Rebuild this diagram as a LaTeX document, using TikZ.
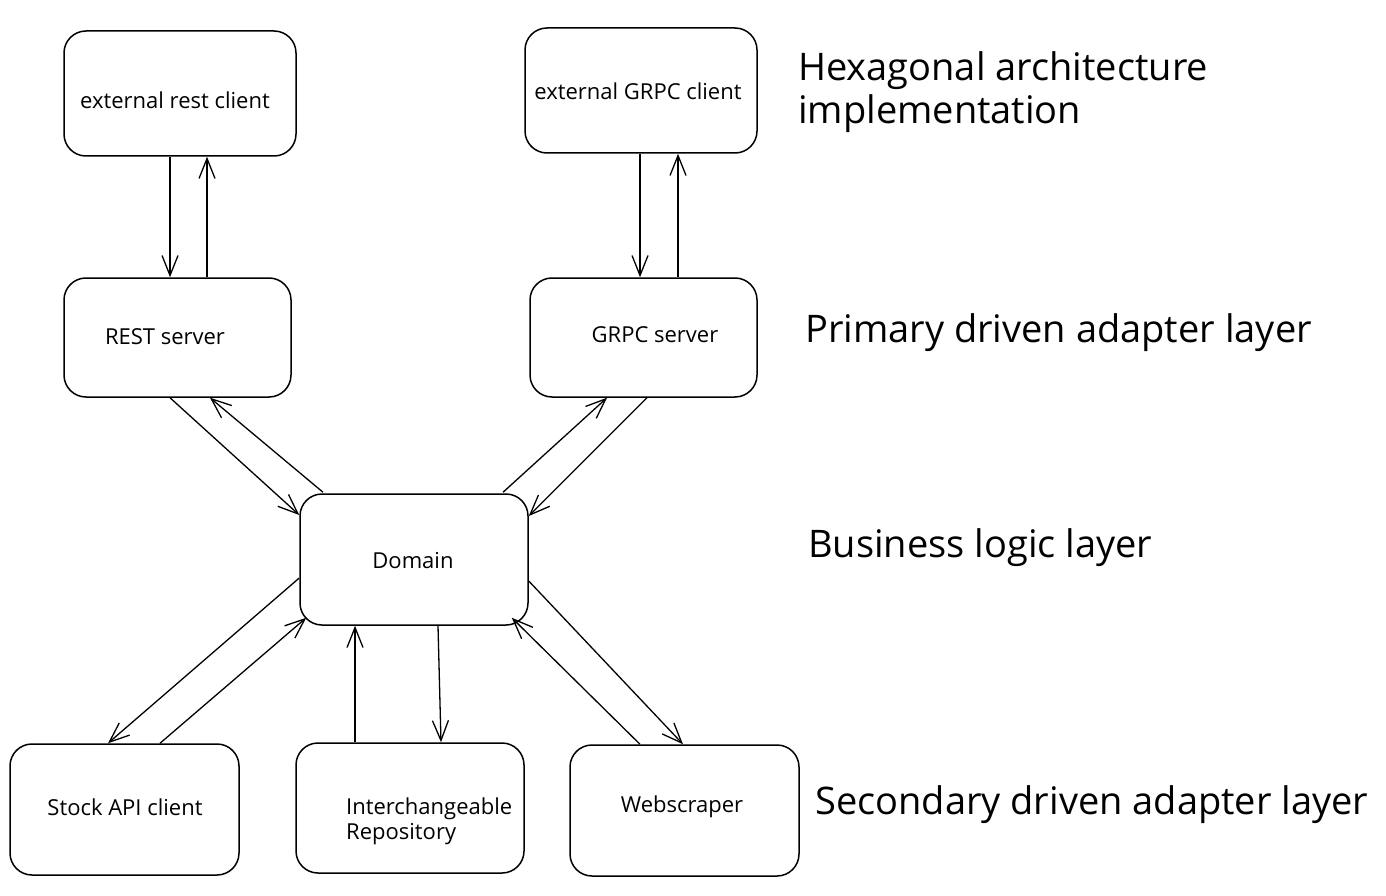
\documentclass[tikz,border=0pt]{standalone}
\usepackage{fontspec}
\setmainfont{Open Sans}
\usetikzlibrary{arrows.meta}
\begin{document}
\begin{tikzpicture}[x=1pt,y=-1pt,
  box/.style={draw=black,line width=1.5pt,rounded corners=22pt,inner sep=0pt},
  btext/.style={font=\fontsize{22}{25}\selectfont,inner sep=0pt},
  ltext/.style={font=\fontsize{38}{43}\selectfont,inner sep=0pt,anchor=west,align=left},
  arr/.style={line width=1.3pt,-{Straight Barb[length=20pt,width=16pt,line width=1.3pt]}}]
\useasboundingbox[fill=white] (0,0) rectangle (1386,896);
% boxes
\node[box,minimum width=232pt,minimum height=125pt] (erc) at (180,93.5) {};
\node[box,minimum width=232pt,minimum height=125pt] (egc) at (641,90.5) {};
\node[box,minimum width=227pt,minimum height=119pt] (rest) at (177.5,337.5) {};
\node[box,minimum width=227pt,minimum height=119pt] (grpc) at (643.5,337.5) {};
\node[box,minimum width=228pt,minimum height=131pt] (dom) at (414,559.5) {};
\node[box,minimum width=229pt,minimum height=131pt] (stock) at (124.5,809.5) {};
\node[box,minimum width=228pt,minimum height=130pt] (repo) at (410,808) {};
\node[box,minimum width=229pt,minimum height=131pt] (web) at (684.5,810.5) {};
% box texts
\node[btext] (t1) at (175,100) {external rest client};
\node[btext] (t2) at (638,91) {external GRPC client};
\node[btext] (t3) at (165,337) {REST server};
\node[btext] (t4) at (655,335) {GRPC server};
\node[btext] (t5) at (413,561) {Domain};
\node[btext] (t6) at (125,807) {Stock API client};
\node[btext,anchor=west,align=left] (t7) at (346,821) {Interchangeable\\Repository};
\node[btext] (t8) at (682,807) {Webscraper};
% side labels
\node[ltext] (l1) at (798,92) {Hexagonal architecture\\implementation};
\node[ltext] (l2) at (805,333) {Primary driven adapter layer};
\node[ltext] (l3) at (808,548) {Business logic layer};
\node[ltext] (l4) at (815,805) {Secondary driven adapter layer};
% arrows
\draw[arr] ([xshift=-10pt]erc.south) -- ([xshift=-7.5pt]rest.north);
\draw[arr] ([xshift=29.5pt]rest.north) -- ([xshift=27pt]erc.south);
\draw[arr] ([xshift=-1pt]egc.south) -- ([xshift=-3.5pt]grpc.north);
\draw[arr] ([xshift=34.5pt]grpc.north) -- ([xshift=37pt]egc.south);
\draw[arr] ([xshift=-7.5pt]rest.south) -- ([yshift=44.5pt]dom.west);
\draw[arr] ([xshift=-91pt,yshift=1pt]dom.north) -- ([xshift=32.5pt]rest.south);
\draw[arr] ([xshift=89pt,yshift=1pt]dom.north) -- ([xshift=-36.5pt]grpc.south);
\draw[arr] ([xshift=3.5pt]grpc.south) -- ([yshift=43.5pt]dom.east);
\draw[arr] ([yshift=-18.5pt]dom.west) -- ([xshift=-16.5pt]stock.north);
\draw[arr] ([xshift=35.5pt]stock.north) -- ([xshift=7pt,yshift=8pt]dom.south west);
\draw[arr] ([xshift=-55pt]repo.north) -- ([xshift=-59pt]dom.south);
\draw[arr] ([xshift=24pt]dom.south) -- ([xshift=31pt]repo.north);
\draw[arr] ([xshift=-44.5pt]web.north) -- ([xshift=-17pt,yshift=8pt]dom.south east);
\draw[arr] ([yshift=-21.5pt]dom.east) -- ([xshift=-1.5pt]web.north);
\end{tikzpicture}
\end{document}
